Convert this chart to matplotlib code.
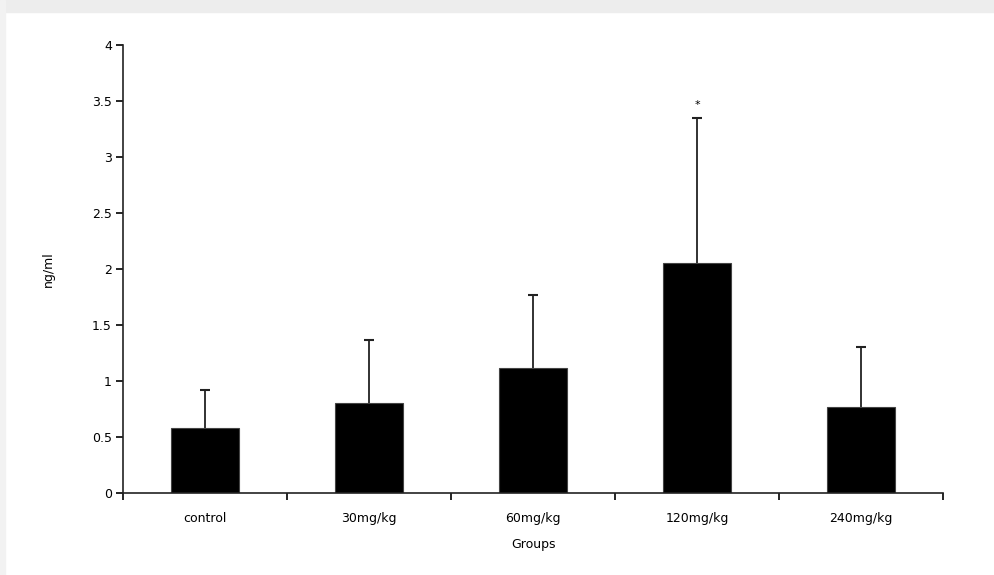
import matplotlib.pyplot as plt
from matplotlib.patches import Rectangle

groups = ["control", "30mg/kg", "60mg/kg", "120mg/kg", "240mg/kg"]
means = [0.58, 0.80, 1.12, 2.05, 0.77]
errors = [0.34, 0.57, 0.65, 1.30, 0.53]
star_group = 3
star_y = 3.46

plt.rcParams['font.family'] = ['DejaVu Sans']

fig = plt.figure(figsize=(9.95, 5.75), dpi=100)
# light grey frame at top and left like the scanned page
fig.patches.append(Rectangle((0, 1 - 12 / 575), 1, 12 / 575, transform=fig.transFigure,
                             color="#ededed", zorder=0))
fig.patches.append(Rectangle((0, 0), 5 / 995, 1, transform=fig.transFigure,
                             color="#f2f2f2", zorder=0))

ax = fig.add_axes([123 / 995, 1 - 493 / 575, 820 / 995, 448 / 575])
x = list(range(len(groups)))
tops = [m + e for m, e in zip(means, errors)]
ax.bar(x, means, width=0.41, color="black", edgecolor="#444444", linewidth=0.8, zorder=2)
# upper error bars only
ax.vlines(x, means, tops, color="#222222", linewidth=1.3, zorder=1)
ax.plot(x, tops, linestyle="none", marker="_", markersize=7, markeredgewidth=1.5,
        color="#222222", zorder=1)
ax.text(star_group, star_y, "*", ha="center", va="center", fontsize=8)

ax.set_xlim(-0.5, len(groups) - 0.5)
ax.set_ylim(0, 4)
ax.set_yticks([0, 0.5, 1, 1.5, 2, 2.5, 3, 3.5, 4])
ax.set_yticklabels(["0", "0.5", "1", "1.5", "2", "2.5", "3", "3.5", "4"])

# ticks between the groups, labels centred under the bars
ax.set_xticks([i - 0.5 for i in range(len(groups) + 1)])
ax.set_xticklabels([])
ax.set_xticks(x, minor=True)
ax.set_xticklabels(groups, minor=True)
ax.tick_params(axis="x", which="minor", length=0, pad=14, labelsize=9)
ax.tick_params(axis="x", which="major", length=5, width=1.2, direction="out")
ax.tick_params(axis="y", length=5, width=1.2, direction="out", labelsize=9, pad=3)

for s in ["top", "right"]:
    ax.spines[s].set_visible(False)
for s in ["left", "bottom"]:
    ax.spines[s].set_linewidth(1.2)
    ax.spines[s].set_color("#222222")

ax.set_ylabel("ng/ml", fontsize=9, labelpad=27)
ax.set_xlabel("Groups", fontsize=9, labelpad=9)

fig.savefig("out.png", dpi=100)
